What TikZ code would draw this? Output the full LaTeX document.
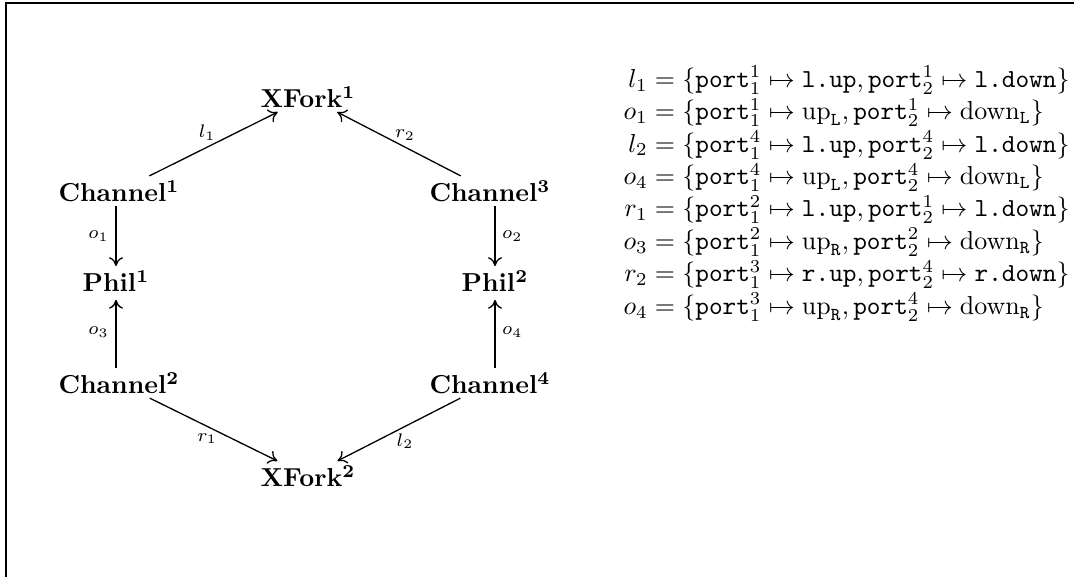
\documentclass[tikz,border=0pt]{standalone}
\usetikzlibrary{arrows.meta}
\newcommand{\pt}[2]{\mathtt{port}^{#1}_{#2}}
\newcommand{\tup}[1]{\texttt{#1.up}}
\newcommand{\tdown}[1]{\texttt{#1.down}}
\newcommand{\upx}[1]{\mathrm{up}_{\mathtt{#1}}}
\newcommand{\downx}[1]{\mathrm{down}_{\mathtt{#1}}}
\begin{document}
\begin{tikzpicture}[x=0.385pt,y=-0.385pt,
  obj/.style={inner sep=1.5pt},
  arr/.style={-{Computer Modern Rightarrow[length=3.4pt,width=5.4pt]}, line width=0.5pt},
  lab/.style={font=\scriptsize, inner sep=2.5pt}]
\useasboundingbox (0,0) rectangle (1074,576);
\clip (0,0) rectangle (1074,576);
% outer frame
\draw[line width=0.9pt] (6,700) -- (6,3) -- (1200,3);

% objects of the hexagon
\node[obj] (xf1) at (308,97)  {\textbf{XFork}$^{\mathbf{1}}$};
\node[obj] (ch1) at (119,191) {\textbf{Channel}$^{\mathbf{1}}$};
\node[obj] (ch3) at (490,191) {\textbf{Channel}$^{\mathbf{3}}$};
\node[obj] (ph1) at (116,281) {\textbf{Phil}$^{\mathbf{1}}$};
\node[obj] (ph2) at (495,281) {\textbf{Phil}$^{\mathbf{2}}$};
\node[obj] (ch2) at (119,383) {\textbf{Channel}$^{\mathbf{2}}$};
\node[obj] (ch4) at (490,383) {\textbf{Channel}$^{\mathbf{4}}$};
\node[obj] (xf2) at (308,476) {\textbf{XFork}$^{\mathbf{2}}$};

% morphisms
\draw[arr] (ch1) -- node[lab, above, pos=0.45] {$l_1$} (xf1);
\draw[arr] (ch3) -- node[lab, above, pos=0.45] {$r_2$} (xf1);
\draw[arr] (ch1.south -| ph1) -- node[lab, left] {$o_1$} (ph1);
\draw[arr] (ch3.south -| ph2) -- node[lab, right] {$o_2$} (ph2);
\draw[arr, shorten >=1.5pt] (ch2.north -| ph1) -- node[lab, left] {$o_3$} (ph1);
\draw[arr, shorten >=1.5pt] (ch4.north -| ph2) -- node[lab, right] {$o_4$} (ph2);
\draw[arr] (ch2) -- node[lab, below, pos=0.45] {$r_1$} (xf2);
\draw[arr] (ch4) -- node[lab, below, pos=0.45] {$l_2$} (xf2);

% port assignments
\node[anchor=north east, inner sep=0pt] (eqs) at (1070,64) {$\renewcommand{\arraystretch}{1.04}
\begin{array}{@{}r@{\;=\;}l@{}}
l_1 & \{\pt11 \mapsto \tup{l}, \pt12 \mapsto \tdown{l}\}\\
o_1 & \{\pt11 \mapsto \upx{L}, \pt12 \mapsto \downx{L}\}\\
l_2 & \{\pt41 \mapsto \tup{l}, \pt42 \mapsto \tdown{l}\}\\
o_4 & \{\pt41 \mapsto \upx{L}, \pt42 \mapsto \downx{L}\}\\
r_1 & \{\pt21 \mapsto \tup{l}, \pt12 \mapsto \tdown{l}\}\\
o_3 & \{\pt21 \mapsto \upx{R}, \pt22 \mapsto \downx{R}\}\\
r_2 & \{\pt31 \mapsto \tup{r}, \pt42 \mapsto \tdown{r}\}\\
o_4 & \{\pt31 \mapsto \upx{R}, \pt42 \mapsto \downx{R}\}
\end{array}$};
\end{tikzpicture}
\end{document}
